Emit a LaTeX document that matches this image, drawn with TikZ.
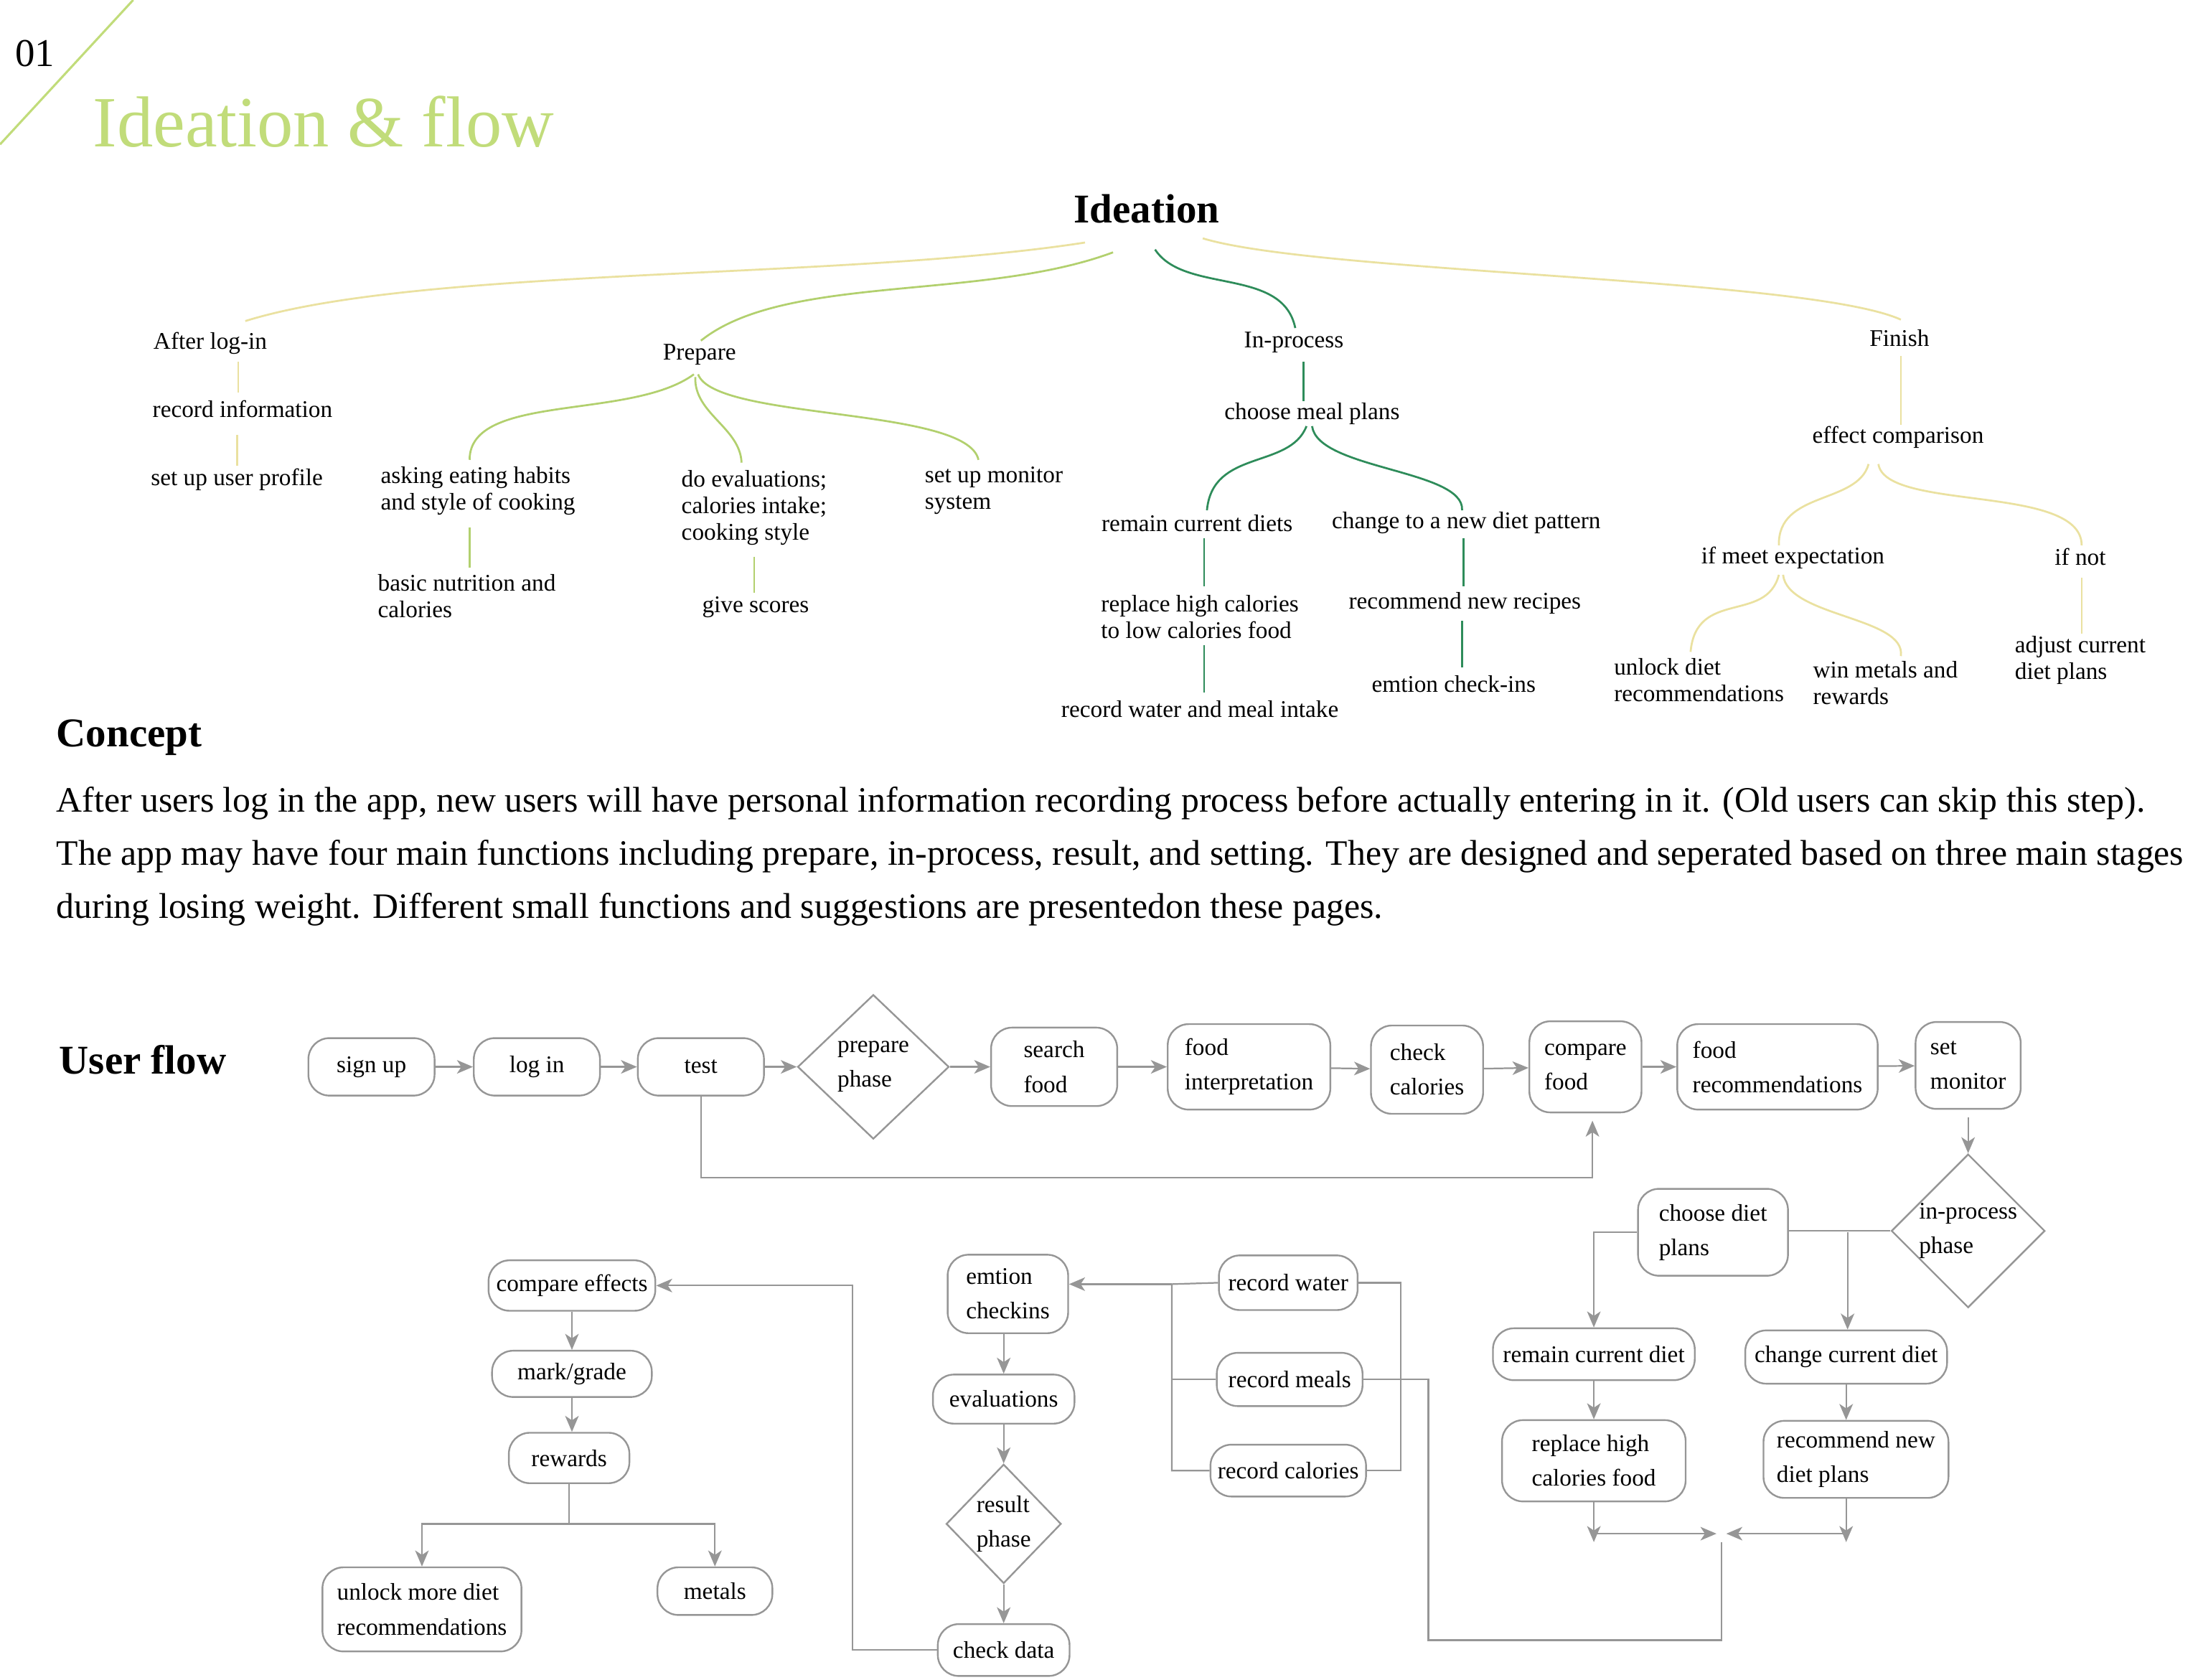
\documentclass[tikz,border=0pt]{standalone}
\usepackage{fontspec}
\setmainfont{Liberation Serif}
\usetikzlibrary{positioning,arrows.meta,shapes.geometric}

\definecolor{titlegreen}{RGB}{193,220,122}
\definecolor{paleyellow}{RGB}{234,225,160}
\definecolor{leafgreen}{RGB}{178,208,110}
\definecolor{deepgreen}{RGB}{46,140,90}
\definecolor{flowgray}{RGB}{150,150,150}

\tikzset{
  idea/.style={font=\fontsize{9.7}{10.8}\selectfont, inner sep=1pt, align=left},
  yline/.style={draw=paleyellow, line width=0.8pt},
  gline/.style={draw=leafgreen, line width=0.8pt},
  dline/.style={draw=deepgreen, line width=0.8pt},
  stepbox/.style={draw=flowgray, line width=0.7pt, rounded corners=0.3cm, align=left,
    inner sep=0pt, font=\fontsize{9.7}{14}\selectfont},
  phase/.style={draw=flowgray, line width=0.7pt, diamond, inner sep=0pt, align=left,
    font=\fontsize{9.7}{14}\selectfont},
  flowline/.style={draw=flowgray, line width=0.65pt},
  flowarrow/.style={flowline, -{Stealth[length=6.5pt,width=5.5pt,inset=1.8pt]}},
  heading/.style={font=\fontsize{16.6}{18}\selectfont\bfseries, inner sep=0pt},
  bodytext/.style={font=\fontsize{14.5}{16}\selectfont, inner sep=0pt, anchor=west}
}

\begin{document}
\begin{tikzpicture}[x=0.02cm, y=-0.02cm]

    \useasboundingbox (0,0) rectangle (1568,1198);

    % Title
    \draw[titlegreen, line width=0.9pt] (0,103) -- (95,0);
    \node[font=\fontsize{16}{18}\selectfont, inner sep=0pt] (pagenum) at (25,38) {01};
    \node[font=\fontsize{29.3}{32}\selectfont, text=titlegreen, inner sep=0pt, anchor=west] (title) at (66,87) {Ideation \& flow};

    % Ideation tree
    \node[heading] (ideation) at (818,149) {Ideation};

    \node[idea] (afterlogin) at (150,245) {After log-in};
    \node[idea] (recinfo) at (173,292) {record information};
    \node[idea] (userprofile) at (169,342) {set up user profile};

    \node[idea] (prepare) at (499,253) {Prepare};
    \node[idea] (asking) at (341,350) {asking eating habits\\and style of cooking};
    \node[idea] (basics) at (333,425) {basic nutrition and\\calories};
    \node[idea] (doeval) at (538,362) {do evaluations;\\calories intake;\\cooking style};
    \node[idea] (scores) at (539,433) {give scores};
    \node[idea] (monitor) at (709,350) {set up monitor\\system};

    \node[idea] (inprocess) at (923,244) {In-process};
    \node[idea] (mealplans) at (936,295) {choose meal plans};
    \node[idea] (remaindiets) at (854,373) {remain current diets};
    \node[idea] (newpattern) at (1046,373) {change to a new diet pattern};
    \node[idea] (replacefood) at (856,440) {replace high calories\\to low calories food};
    \node[idea] (newrecipes) at (1045,430) {recommend new recipes};
    \node[idea] (waterintake) at (856,506) {record water and meal intake};
    \node[idea] (checkins) at (1037,488) {emtion check-ins};

    \node[idea] (finish) at (1355,241) {Finish};
    \node[idea] (effect) at (1354,312) {effect comparison};
    \node[idea] (meetexp) at (1279,398) {if meet expectation};
    \node[idea] (ifnot) at (1484,397) {if not};
    \node[idea] (unlockdiet) at (1212,485) {unlock diet\\recommendations};
    \node[idea] (metalswin) at (1345,487) {win metals and\\rewards};
    \node[idea] (adjust) at (1484,471) {adjust current\\diet plans};

    % branches from the root
    \draw[yline] ([shift={(-44,24)}]ideation.center) .. controls (600,200) and (300,190) .. ([shift={(25,-16)}]afterlogin.center);
    \draw[gline] ([shift={(-24,31)}]ideation.center) .. controls (700,215) and (560,195) .. ([shift={(1,-10)}]prepare.center);
    \draw[dline] ([shift={(6,29)}]ideation.center) .. controls (845,210) and (915,190) .. ([shift={(1,-10)}]inprocess.center);
    \draw[yline] ([shift={(40,21)}]ideation.center) .. controls (940,195) and (1290,198) .. ([shift={(1,-13)}]finish.center);

    % after log-in
    \draw[yline] ([shift={(20,13)}]afterlogin.center) -- ([shift={(-3,-12)}]recinfo.center);
    \draw[yline] ([shift={(-4,18)}]recinfo.center) -- ([shift={(0,-10)}]userprofile.center);

    % prepare
    \draw[gline] ([shift={(-4,14)}]prepare.center) .. controls (450,300) and (335,280) .. ([shift={(-6,-22)}]asking.center);
    \draw[gline] ([shift={(-3,16)}]prepare.center) .. controls (495,295) and (528,305) .. ([shift={(-9,-32)}]doeval.center);
    \draw[gline] ([shift={(-1,14)}]prepare.center) .. controls (510,300) and (690,290) .. ([shift={(-11,-22)}]monitor.center);
    \draw[gline] ([shift={(-6,26)}]asking.center) -- ([shift={(2,-20)}]basics.center);
    \draw[gline] ([shift={(0,35)}]doeval.center) -- ([shift={(-1,-10)}]scores.center);

    % in-process
    \draw[dline] ([shift={(7,14)}]inprocess.center) -- ([shift={(-6,-9)}]mealplans.center);
    \draw[dline] ([shift={(-4,9)}]mealplans.center) .. controls (920,335) and (865,320) .. ([shift={(7,-9)}]remaindiets.center);
    \draw[dline] ([shift={(0,9)}]mealplans.center) .. controls (940,335) and (1045,335) .. ([shift={(-3,-9)}]newpattern.center);
    \draw[dline] ([shift={(5,11)}]remaindiets.center) -- ([shift={(3,-22)}]replacefood.center);
    \draw[dline] ([shift={(3,20)}]replacefood.center) -- ([shift={(3,-12)}]waterintake.center);
    \draw[dline] ([shift={(-2,11)}]newpattern.center) -- ([shift={(-1,-12)}]newrecipes.center);
    \draw[dline] ([shift={(-2,13)}]newrecipes.center) -- ([shift={(6,-12)}]checkins.center);

    % finish
    \draw[yline] ([shift={(1,13)}]finish.center) -- ([shift={(2,-9)}]effect.center);
    \draw[yline] ([shift={(-21,19)}]effect.center) .. controls (1325,360) and (1268,350) .. ([shift={(-10,-9)}]meetexp.center);
    \draw[yline] ([shift={(-14,19)}]effect.center) .. controls (1345,365) and (1485,345) .. ([shift={(1,-8)}]ifnot.center);
    \draw[yline] ([shift={(-10,12)}]meetexp.center) .. controls (1260,445) and (1210,420) .. ([shift={(-6,-20)}]unlockdiet.center);
    \draw[yline] ([shift={(-7,12)}]meetexp.center) .. controls (1275,440) and (1360,440) .. ([shift={(11,-19)}]metalswin.center);
    \draw[yline] ([shift={(1,15)}]ifnot.center) -- ([shift={(1,-19)}]adjust.center);

    % Concept
    \node[heading, anchor=west] (concept) at (40,526) {Concept};
    \node[bodytext] (line1) at (40,573) {After users log in the app, new users will have personal information recording process before actually entering in it. (Old users can skip this step).};
    \node[bodytext] (line2) at (40,611) {The app may have four main functions including prepare, in-process, result, and setting. They are designed and seperated based on three main stages};
    \node[bodytext] (line3) at (40,649) {during losing weight. Different small functions and suggestions are presentedon these pages.};

    % User flow
    \node[heading, anchor=west] (userflow) at (42,756) {User flow};

    \node[stepbox, minimum width=1.8cm, minimum height=0.82cm] (signup) at (265,761) {sign up};
    \node[stepbox, minimum width=1.8cm, minimum height=0.82cm] (login) at (383,761) {log in};
    \node[stepbox, minimum width=1.8cm, minimum height=0.82cm] (test) at (500,761) {test};
    \node[phase, minimum width=2.16cm, minimum height=2.06cm] (preparephase) at (623,761) {prepare\\phase};
    \node[stepbox, minimum width=1.8cm, minimum height=1.12cm] (searchfood) at (752,761) {search\\food};
    \node[stepbox, minimum width=2.32cm, minimum height=1.22cm] (foodinterp) at (891,761) {food\\interpretation};
    \node[stepbox, minimum width=1.6cm, minimum height=1.26cm] (checkcal) at (1018,763) {check\\calories};
    \node[stepbox, minimum width=1.6cm, minimum height=1.3cm] (comparefood) at (1131,761) {compare\\food};
    \node[stepbox, minimum width=2.86cm, minimum height=1.22cm] (foodrec) at (1268,761) {food\\recommendations};
    \node[stepbox, minimum width=1.5cm, minimum height=1.24cm] (setmonitor) at (1404,760) {set\\monitor};

    \draw[flowarrow] (signup) -- (login);
    \draw[flowarrow] (login) -- (test);
    \draw[flowarrow] (test) -- (preparephase);
    \draw[flowarrow] (preparephase) -- (searchfood);
    \draw[flowarrow] (searchfood) -- (foodinterp);
    \draw[flowarrow] (foodinterp) -- (checkcal);
    \draw[flowarrow] (checkcal) -- (comparefood);
    \draw[flowarrow] (comparefood) -- (foodrec);
    \draw[flowarrow] (foodrec) -- (setmonitor);

    \coordinate (skipcorner) at (1136,840);
    \draw[flowarrow, shorten >=3pt] (test.south) |- (skipcorner) -- (skipcorner |- comparefood.south);

    % in-process part
    \node[phase, minimum width=2.06cm, minimum height=2.06cm] (inphase) at (1404,878) {in-process\\phase};
    \node[stepbox, minimum width=2.14cm, minimum height=1.24cm] (choosediet) at (1222,879) {choose diet\\plans};
    \node[stepbox, minimum width=2.88cm, minimum height=0.74cm] (remaindiet) at (1137,966) {remain current diet};
    \node[stepbox, minimum width=2.88cm, minimum height=0.76cm] (changediet) at (1317,968) {change current diet};
    \node[stepbox, minimum width=2.62cm, minimum height=1.16cm] (replacehigh) at (1137,1042) {replace high\\calories food};
    \node[stepbox, minimum width=2.64cm, minimum height=1.1cm] (recnewplans) at (1324,1041) {recommend new\\diet plans};

    \draw[flowarrow, shorten <=3pt] (setmonitor.south) -- (inphase.north);
    \draw[flowline] (inphase.west) -- (choosediet.east |- inphase.west);
    \coordinate (changesplit) at (1318,879);
    \draw[flowarrow] (changesplit) -- (changesplit |- changediet.north);
    \draw[flowarrow] (choosediet.west) -| (remaindiet.north);
    \draw[flowarrow] (remaindiet) -- (replacehigh);
    \draw[flowarrow] (changediet.south) -- (changediet.south |- recnewplans.north);

    \coordinate (replaceend) at (1137,1100);
    \coordinate (recnewend) at (1317,1100);
    \draw[flowarrow] (replacehigh.south) -- (replaceend);
    \draw[flowarrow] (recnewplans.south -| recnewend) -- (recnewend);
    \coordinate (mergeleft) at (1139,1094);
    \coordinate (mergeright) at (1317,1094);
    \coordinate (mergemid) at (1228,1094);
    \draw[flowarrow] (mergeleft) -- ([xshift=-2pt]mergemid);
    \draw[flowarrow] (mergeright) -- ([xshift=2pt]mergemid);

    % recording
    \node[stepbox, minimum width=1.98cm, minimum height=0.78cm] (recwater) at (919,915) {record water};
    \node[stepbox, minimum width=2.08cm, minimum height=0.76cm] (recmeals) at (920,984) {record meals};
    \node[stepbox, minimum width=2.22cm, minimum height=0.74cm] (reccal) at (919,1049) {record calories};

    \coordinate (mergedown) at (1228,1100);
    \coordinate (backcorner) at (1019,1170);
    \draw[flowline] (mergedown) |- (backcorner) |- (recmeals.east);
    \draw[flowline] (recwater.east) -- ++(30,0) |- (reccal.east);
    \coordinate (recbracket) at (836,916);
    \draw[flowline] (recwater.west) -- (recbracket) |- (reccal.west);
    \draw[flowline] (recmeals.west) -- (recmeals.west -| recbracket);

    % result part
    \node[stepbox, minimum width=1.72cm, minimum height=1.12cm] (emtion) at (719,923) {emtion\\checkins};
    \node[stepbox, minimum width=2.02cm, minimum height=0.7cm] (evaluations) at (716,998) {evaluations};
    \node[phase, minimum width=1.64cm, minimum height=1.7cm] (resultphase) at (716,1087) {result\\phase};
    \node[stepbox, minimum width=1.88cm, minimum height=0.74cm] (checkdata) at (716,1177) {check data};

    \draw[flowarrow] (recbracket) -- (recbracket -| emtion.east);
    \draw[flowarrow] (emtion.south -| evaluations.north) -- (evaluations.north);
    \draw[flowarrow] (evaluations) -- (resultphase);
    \draw[flowarrow] (resultphase) -- (checkdata);

    % finish part
    \node[stepbox, minimum width=2.38cm, minimum height=0.72cm] (compareeff) at (408,917) {compare effects};
    \node[stepbox, minimum width=2.28cm, minimum height=0.66cm] (markgrade) at (408,980) {mark/grade};
    \node[stepbox, minimum width=1.72cm, minimum height=0.72cm] (rewards) at (406,1040) {rewards};
    \node[stepbox, minimum width=2.84cm, minimum height=1.2cm] (unlockmore) at (301,1148) {unlock more diet\\recommendations};
    \node[stepbox, minimum width=1.64cm, minimum height=0.68cm] (metals) at (510,1135) {metals};

    \coordinate (backleft) at (608,917);
    \draw[flowarrow] (checkdata.west) -| (backleft) -- (compareeff.east);
    \draw[flowarrow] (compareeff) -- (markgrade);
    \draw[flowarrow] (markgrade.south) -- (markgrade.south |- rewards.north);
    \coordinate (rewardsplit) at (406,1087);
    \draw[flowline] (rewards.south) -- (rewardsplit);
    \draw[flowarrow] (rewardsplit) -| (unlockmore.north);
    \draw[flowarrow] (rewardsplit) -| (metals.north);

\end{tikzpicture}
\end{document}
